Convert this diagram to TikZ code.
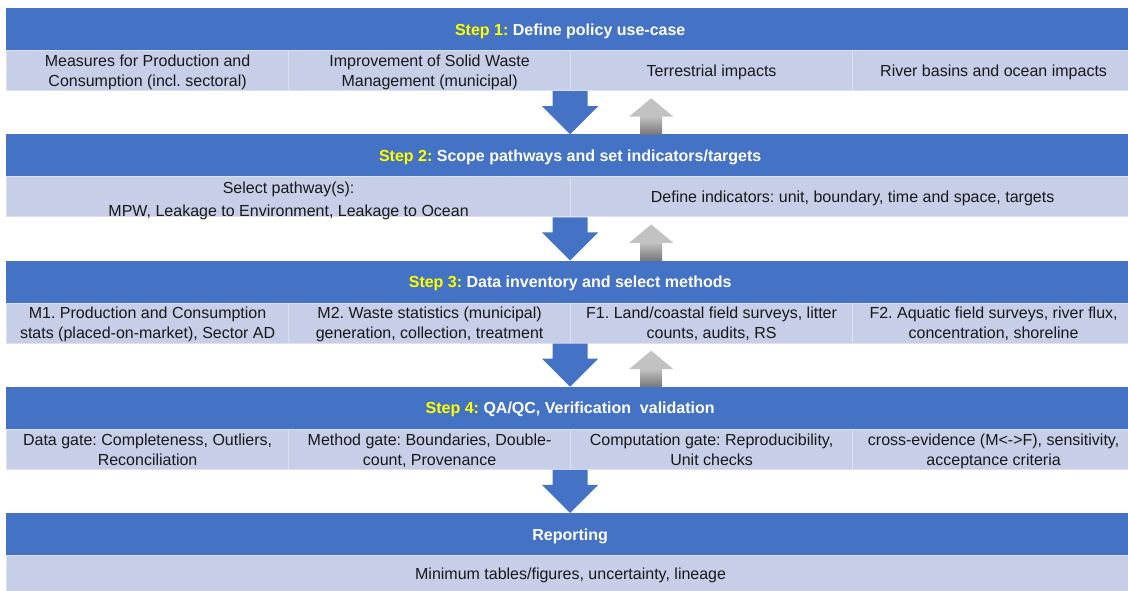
\documentclass[tikz,border=0pt]{standalone}
\usepackage{fontspec}
\setmainfont{Liberation Sans}
\usepackage{xcolor}
\usetikzlibrary{calc}

\definecolor{hdrblue}{HTML}{4472C4}
\definecolor{cellfill}{HTML}{C6CEE8}
\definecolor{cellline}{HTML}{DCE1F1}
\definecolor{stepyellow}{HTML}{FFFF00}
\definecolor{uplight}{HTML}{C2C2C2}
\definecolor{updark}{HTML}{787878}

\tikzset{
    header/.style={fill=hdrblue, minimum width=1128pt, minimum height=42pt,
        inner sep=0pt, anchor=north west, text=white, text depth=0pt,
        font=\fontsize{16}{19}\selectfont\bfseries},
    cell/.style={fill=cellfill, draw=cellline, line width=1.2pt,
        minimum height=40pt, inner sep=0pt, anchor=north west, text depth=0pt,
        align=center, text=black!90, font=\fontsize{16}{20}\selectfont},
    cellfour/.style={cell, minimum width=282pt},
    celltwo/.style={cell, minimum width=564pt},
    cellone/.style={cell, minimum width=1128pt},
    downarrow/.style={fill=hdrblue},
}

\newcommand{\stepname}[1]{\textcolor{stepyellow}{Step #1:}}

\begin{document}
\frenchspacing
\begin{tikzpicture}[x=1pt, y=-1pt]
    \useasboundingbox (0,0) rectangle (1128,590);

    % step bands
    \node[header] (h1) at (6,8)      {\stepname{1} Define policy use-case};
    \node[header] (h2) at (6,134.25) {\stepname{2} Scope pathways and set indicators/targets};
    \node[header] (h3) at (6,260.5)  {\stepname{3} Data inventory and select methods};
    \node[header] (h4) at (6,386.75) {\stepname{4} QA/QC, Verification~ validation};
    \node[header] (h5) at (6,513)    {Reporting};

    % row 1
    \foreach \k/\txt in {1/{Measures for Production and\\Consumption (incl. sectoral)},
                         2/{Improvement of Solid Waste\\Management (municipal)},
                         3/{Terrestrial impacts},
                         4/{River basins and ocean impacts}}
    {
        \node[cellfour] (c1\k) at ({6+282*(\k-1)},50) {\txt};
    }

    % row 2
    \node[celltwo, text height=40pt] (c21) at (6,176.25)
        {Select pathway(s):\\[3pt]MPW, Leakage to Environment, Leakage to Ocean};
    \node[celltwo] (c22) at (570,176.25)
        {Define indicators: unit, boundary, time and space, targets};

    % row 3
    \foreach \k/\txt in {1/{M1. Production and Consumption\\stats (placed-on-market), Sector AD},
                         2/{M2. Waste statistics (municipal)\\generation, collection, treatment},
                         3/{F1. Land/coastal field surveys, litter\\counts, audits, RS},
                         4/{F2. Aquatic field surveys, river flux,\\concentration, shoreline}}
    {
        \node[cellfour] (c3\k) at ({6+282*(\k-1)},302.5) {\txt};
    }

    % row 4
    \foreach \k/\txt in {1/{Data gate: Completeness, Outliers,\\Reconciliation},
                         2/{Method gate: Boundaries, Double-\\count, Provenance},
                         3/{Computation gate: Reproducibility,\\Unit checks},
                         4/{cross-evidence (M<->F), sensitivity,\\acceptance criteria}}
    {
        \node[cellfour] (c4\k) at ({6+282*(\k-1)},428.75) {\txt};
    }

    % row 5
    \node[cellone, minimum height=36pt] (c51) at (6,555)
        {Minimum tables/figures, uncertainty, lineage};

    % blue arrows down
    \foreach \i/\n in {1/2,2/3,3/4,4/5}
    {
        \coordinate (dt) at (h\n.north |- c\i1.south);
        \fill[downarrow] ($(dt)+(-17.5,0)$) -- ($(dt)+(17.5,0)$) -- ($(dt)+(17.5,15)$)
            -- ($(dt)+(28,15)$) -- (h\n.north) -- ($(dt)+(-28,15)$)
            -- ($(dt)+(-17.5,15)$) -- cycle;
    }

    % grey arrows back up
    \foreach \i/\n in {1/2,2/3,3/4}
    {
        \coordinate (ub) at ($(h\n.north)+(81,0)$);
        \coordinate (ut) at ($(h\n.north |- c\i1.south)+(81,7)$);
        \shade[top color=uplight, bottom color=updark]
            ($(ut)+(-11,18)$) rectangle ($(ub)+(11,0)$);
        \fill[uplight] (ut) -- ($(ut)+(22,18.3)$) -- ($(ut)+(-22,18.3)$) -- cycle;
    }

\end{tikzpicture}
\end{document}
